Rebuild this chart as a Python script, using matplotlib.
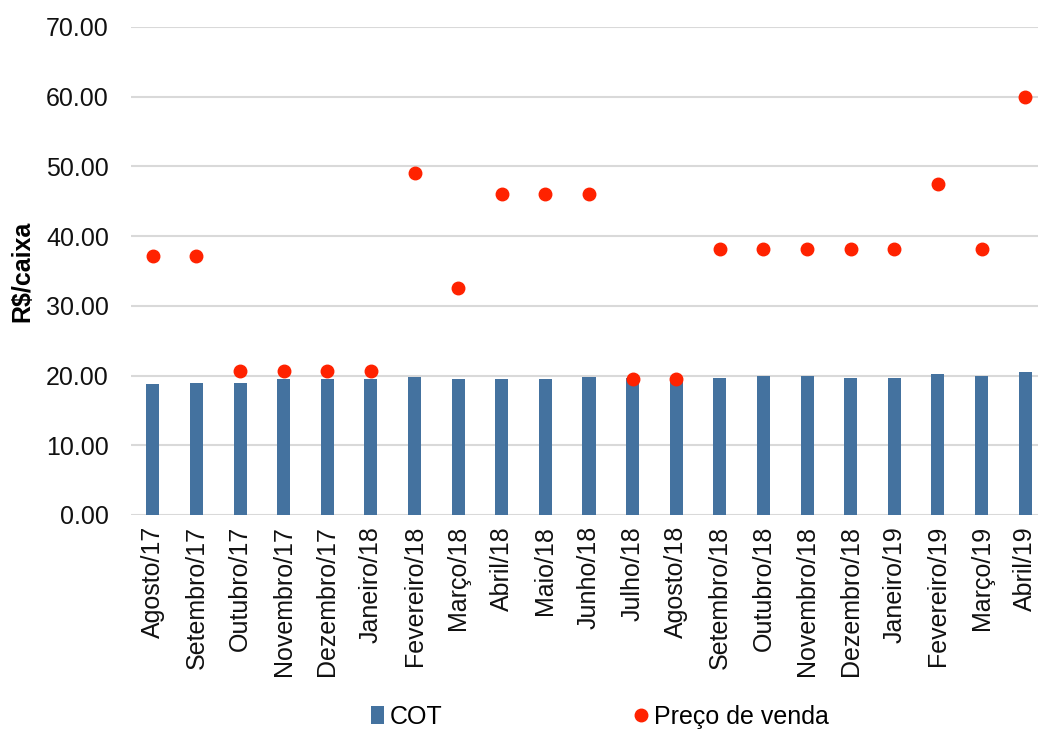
import matplotlib
matplotlib.use("Agg")
import matplotlib.pyplot as plt
import numpy as np

plt.rcParams['font.family'] = ['Liberation Sans', 'DejaVu Sans']

meses = ["Agosto/17", "Setembro/17", "Outubro/17", "Novembro/17", "Dezembro/17",
         "Janeiro/18", "Fevereiro/18", "Março/18", "Abril/18", "Maio/18",
         "Junho/18", "Julho/18", "Agosto/18", "Setembro/18", "Outubro/18",
         "Novembro/18", "Dezembro/18", "Janeiro/19", "Fevereiro/19",
         "Março/19", "Abril/19"]
cot = [18.8, 19.0, 19.0, 19.5, 19.5, 19.5, 19.75, 19.5, 19.5, 19.5,
       19.75, 19.7, 19.7, 19.7, 19.9, 19.9, 19.7, 19.7, 20.2, 19.9, 20.45]
preco = [37.2, 37.2, 20.7, 20.7, 20.7, 20.7, 49.1, 32.6, 46.1, 46.1,
         46.1, 19.5, 19.5, 38.2, 38.2, 38.2, 38.2, 38.2, 47.5, 38.2, 60.0]

fig = plt.figure(figsize=(10.38, 7.33), dpi=100)
ax = fig.add_axes([131 / 1038, 218 / 733, 916 / 1038, 488 / 733])

x = np.arange(len(meses))
barras = ax.bar(x, cot, width=0.3, color="#44729f", label="COT", zorder=2)
pontos, = ax.plot(x, preco, "o", color="#ff2200", markersize=9,
                  label="Preço de venda", zorder=3)

ax.set_xlim(-0.5, len(meses) - 0.5)
ax.set_ylim(0, 70)
ax.set_yticks(np.arange(0, 71, 10))
ax.set_yticklabels([f"{v:.2f}" for v in np.arange(0, 71, 10)], fontsize=18, color="#111111")
ax.set_xticks(x)
ax.set_xticklabels(meses, rotation=90, fontsize=18, color="#111111")
ax.tick_params(axis="x", length=0, pad=8)
ax.tick_params(axis="y", length=0, pad=16)
ax.set_ylabel("R$/caixa", fontsize=18, fontweight="bold", labelpad=8)
ax.grid(axis="y", color="#d9d9d9", linewidth=1.5, zorder=0)
for s in ax.spines.values():
    s.set_visible(False)

fig.legend(handles=[barras, pontos], loc="lower center", bbox_to_anchor=(0.578, -0.025),
           ncol=2, frameon=False, fontsize=18, handlelength=0.5, handletextpad=0.25,
           columnspacing=7.7)

fig.savefig("out.png", dpi=100)
